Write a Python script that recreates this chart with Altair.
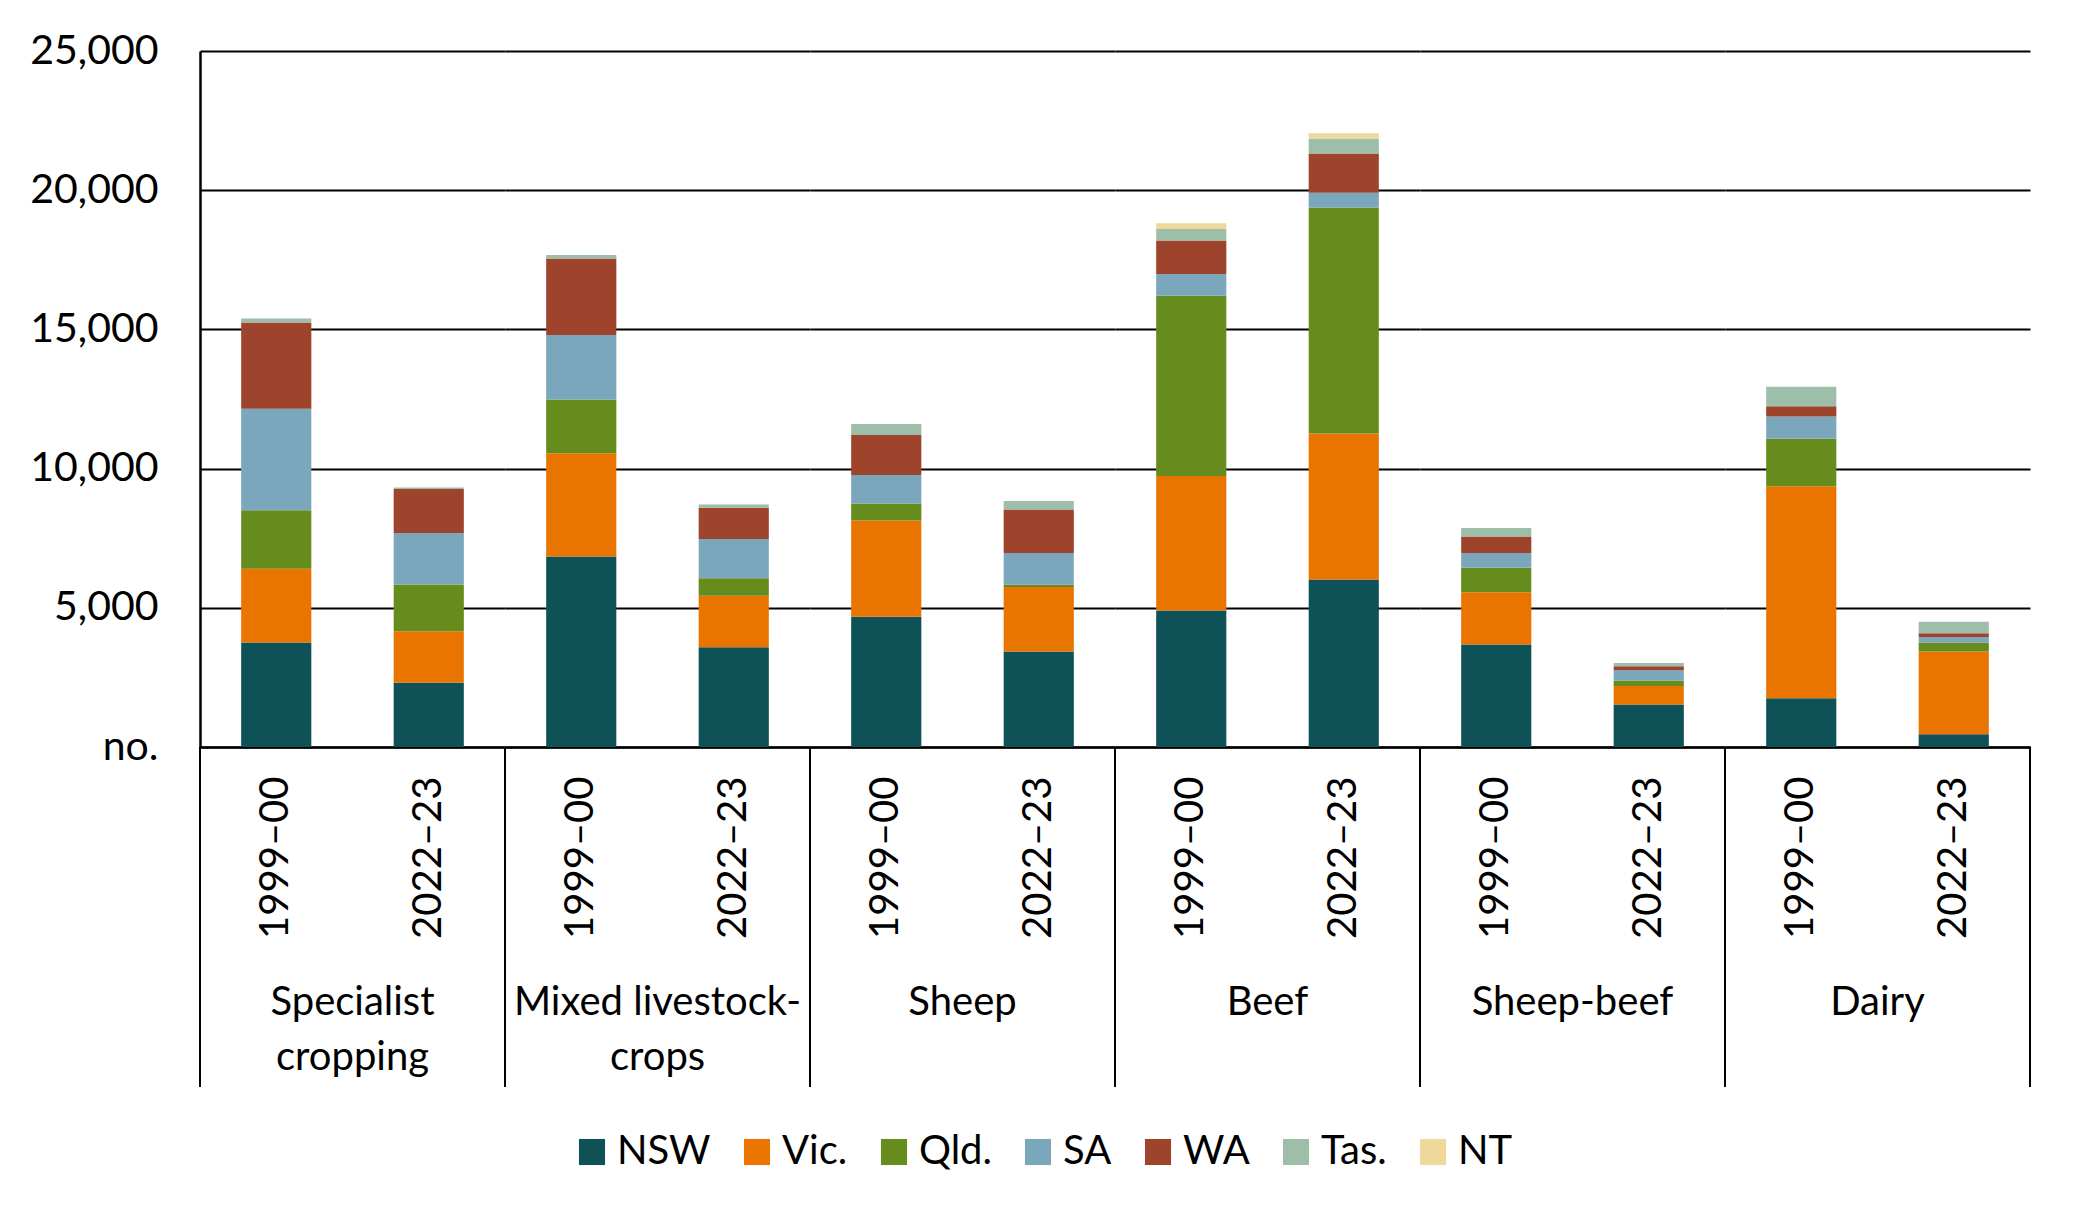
import altair as alt
import pandas as pd

categories = ["Specialist cropping", "Mixed livestock-crops", "Sheep", "Beef", "Sheep-beef", "Dairy"]
years = ["1999–00", "2022–23"]
states = ["NSW", "Vic.", "Qld.", "SA", "WA", "Tas.", "NT"]
colors = ["#0E5257", "#E97500", "#668C1E", "#7BA7BD", "#9E432C", "#9DBFAA", "#EDD99B"]

# values in bar order: (category, year) pairs
NSW = [3750, 2310, 6840, 3580, 4680, 3430, 4900, 6020, 3680, 1530, 1750, 460]
Vic = [2650, 1850, 3710, 1850, 3460, 2320, 4830, 5240, 1880, 660, 7620, 2970]
Qld = [2100, 1680, 1930, 630, 610, 80, 6480, 8120, 880, 200, 1700, 320]
SA = [3650, 1850, 2320, 1410, 1020, 1140, 780, 530, 530, 370, 800, 200]
WA = [3100, 1580, 2750, 1120, 1440, 1560, 1200, 1410, 590, 140, 370, 140]
Tas = [140, 50, 120, 120, 390, 310, 420, 540, 310, 120, 700, 410]
NT = [0, 0, 0, 0, 0, 0, 200, 190, 0, 0, 0, 0]

series = [NSW, Vic, Qld, SA, WA, Tas, NT]
rows = []
for si, (st, vals) in enumerate(zip(states, series)):
    k = 0
    for c in categories:
        for y in years:
            rows.append({"category": c, "year": y, "state": st, "idx": si, "value": vals[k]})
            k += 1
df = pd.DataFrame(rows)

FONT = "Lato"
W, H = 305, 696

bars = alt.Chart().mark_bar(width=alt.RelativeBandSize(0.46)).encode(
    x=alt.X("year:N", sort=years, title=None,
            scale=alt.Scale(paddingInner=0, paddingOuter=0),
            axis=alt.Axis(labelAngle=270, ticks=False, labelPadding=29, grid=False,
                          domainColor="black", domainWidth=2.5, labelFont=FONT,
                          labelFontSize=40, labelColor="black")),
    y=alt.Y("value:Q", stack="zero", title=None,
            scale=alt.Scale(domain=[0, 25000], nice=False),
            axis=alt.Axis(values=[0, 5000, 10000, 15000, 20000, 25000],
                          labelExpr="datum.value == 0 ? 'no.' : format(datum.value, ',')",
                          gridColor="black", gridWidth=2, domainColor="black", domainWidth=2.5,
                          ticks=False, labelPadding=42, labelFont=FONT, labelFontSize=41,
                          labelColor="black")),
    color=alt.Color("state:N", sort=states, scale=alt.Scale(domain=states, range=colors),
                    legend=alt.Legend(orient="none", direction="horizontal", legendX=372,
                                      legendY=1081, title=None, symbolType="square",
                                      symbolSize=680, symbolStrokeWidth=0, labelFont=FONT,
                                      labelFontSize=40, labelColor="black", labelOffset=5,
                                      columnPadding=26)),
    order=alt.Order("idx:Q", sort="ascending"),
)

left_rules = alt.Chart().transform_filter(
    alt.datum.year == years[0]
).mark_rule(color="black", strokeWidth=2).encode(
    x=alt.X("year:N", sort=years, bandPosition=0),
    y=alt.value(H),
    y2=alt.value(H + 340),
)

right_rule = alt.Chart().transform_filter(
    (alt.datum.year == years[1]) & (alt.datum.category == categories[-1])
).mark_rule(color="black", strokeWidth=2).encode(
    x=alt.X("year:N", sort=years, bandPosition=1),
    y=alt.value(H),
    y2=alt.value(H + 340),
)

label_expr = ("datum.value == 'Specialist cropping' ? ['Specialist', 'cropping'] : "
              "datum.value == 'Mixed livestock-crops' ? ['Mixed livestock-', 'crops'] : datum.value")

chart = alt.layer(bars, left_rules, right_rule, data=df).properties(
    width=W, height=H
).facet(
    column=alt.Column("category:N", sort=categories, title=None,
                      header=alt.Header(labelOrient="bottom", labelFont=FONT, labelFontSize=40,
                                        labelColor="black", labelPadding=45,
                                        labelBaseline="top", labelLineHeight=55,
                                        labelExpr=label_expr)),
    spacing=0,
    bounds="flush",
).properties(
    padding={"left": 21, "top": 22, "right": 20, "bottom": 20}
).configure_view(stroke="transparent")

chart.save("out.html", embed_options={"renderer": "svg", "actions": False})
